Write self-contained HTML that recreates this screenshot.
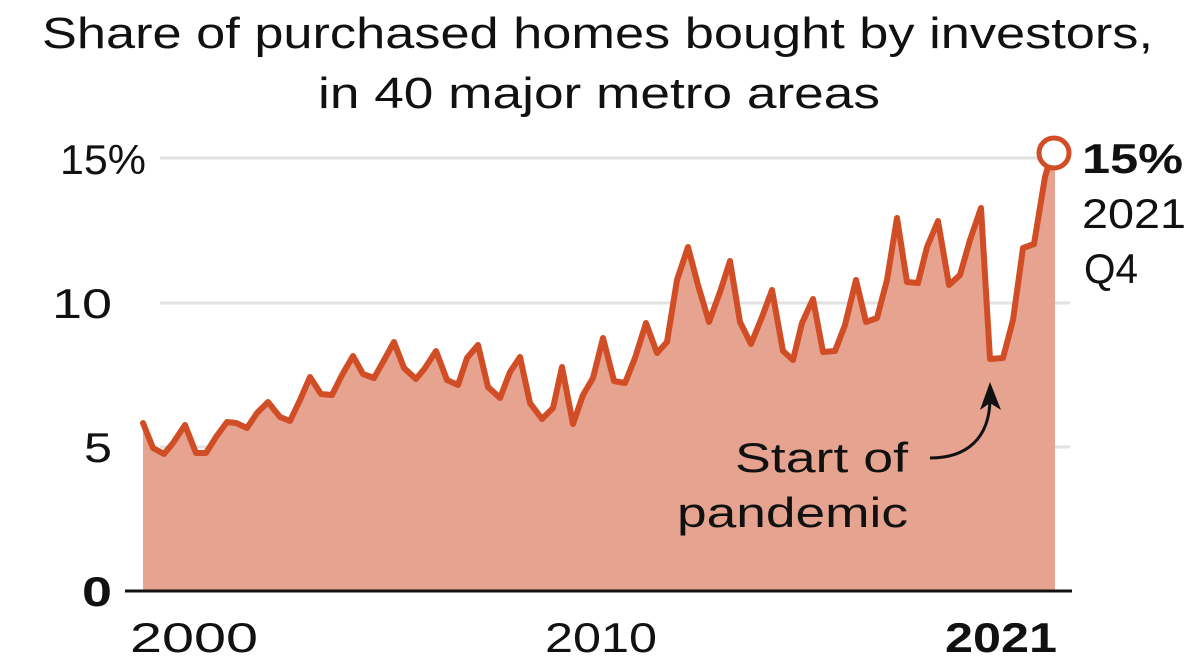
<!DOCTYPE html>
<html><head><meta charset="utf-8"><style>
html,body{margin:0;padding:0;background:#fff}
svg{display:block}
text{font-family:"Liberation Sans",sans-serif;fill:#111}
</style></head><body>
<svg width="1199" height="671" viewBox="0 0 1199 671">
<text x="42" y="48" font-size="44" textLength="1111" lengthAdjust="spacingAndGlyphs">Share of purchased homes bought by investors,</text>
<text x="318" y="108" font-size="44" textLength="562" lengthAdjust="spacingAndGlyphs">in 40 major metro areas</text>
<g stroke="#e2e2e2" stroke-width="3">
<line x1="160" y1="158" x2="1070" y2="158"/>
<line x1="160" y1="303" x2="1070" y2="303"/>
<line x1="160" y1="447" x2="1070" y2="447"/>
</g>
<g font-size="42">
<text x="60" y="174" textLength="86" lengthAdjust="spacingAndGlyphs">15%</text>
<text x="52" y="318" textLength="60" lengthAdjust="spacingAndGlyphs">10</text>
<text x="84" y="462" textLength="28" lengthAdjust="spacingAndGlyphs">5</text>
<text x="82" y="606" font-weight="bold" textLength="30" lengthAdjust="spacingAndGlyphs">0</text>
</g>
<polygon fill="#e5a390" points="143,591 143,423 153,448 164,454 173,443 185,425 196,453 206,453 216,437 227,422 236,423 247,428 257,413 268,402 280,417 290,421 300,400 310,377 321,394 332,395 342,375 353,356 363,374 374,378 383,362 394,342 404,368 416,379 425,368 436,351 447,380 458,385 467,358 478,345 488,387 500,398 510,372 520,357 530,403 542,419 553,408 562,367 573,424 583,395 593,378 603,338 614,381 625,383 635,358 646,323 657,353 667,342 677,280 688,247 698,285 709,322 720,292 730,261 740,322 751,344 762,317 772,290 783,351 793,360 802,323 813,299 823,352 835,351 845,325 856,280 866,322 877,318 887,280 897,218 907,282 918,283 927,247 938,221 949,285 960,275 970,240 981,208 990,359 1003,358 1013,320 1023,248 1034,244 1045,177 1052,153 1055,153 1055,591"/>
<polyline fill="none" stroke="#d14d26" stroke-width="6" stroke-linejoin="round" stroke-linecap="round" points="143,423 153,448 164,454 173,443 185,425 196,453 206,453 216,437 227,422 236,423 247,428 257,413 268,402 280,417 290,421 300,400 310,377 321,394 332,395 342,375 353,356 363,374 374,378 383,362 394,342 404,368 416,379 425,368 436,351 447,380 458,385 467,358 478,345 488,387 500,398 510,372 520,357 530,403 542,419 553,408 562,367 573,424 583,395 593,378 603,338 614,381 625,383 635,358 646,323 657,353 667,342 677,280 688,247 698,285 709,322 720,292 730,261 740,322 751,344 762,317 772,290 783,351 793,360 802,323 813,299 823,352 835,351 845,325 856,280 866,322 877,318 887,280 897,218 907,282 918,283 927,247 938,221 949,285 960,275 970,240 981,208 990,359 1003,358 1013,320 1023,248 1034,244 1045,177 1052,153"/>
<circle cx="1054" cy="153" r="15" fill="#fff" stroke="#d14d26" stroke-width="5"/>
<line x1="125" y1="591" x2="1072" y2="591" stroke="#111" stroke-width="3"/>
<g font-size="42">
<text x="130" y="652" textLength="128" lengthAdjust="spacingAndGlyphs">2000</text>
<text x="545" y="652" textLength="112" lengthAdjust="spacingAndGlyphs">2010</text>
<text x="945" y="652" font-weight="bold" textLength="112" lengthAdjust="spacingAndGlyphs">2021</text>
<text x="1082" y="173" font-weight="bold" textLength="101" lengthAdjust="spacingAndGlyphs">15%</text>
<text x="1082" y="228" textLength="104" lengthAdjust="spacingAndGlyphs">2021</text>
<text x="1084" y="283" textLength="54" lengthAdjust="spacingAndGlyphs">Q4</text>
<text x="735" y="472" textLength="173" lengthAdjust="spacingAndGlyphs">Start of</text>
<text x="677" y="527" textLength="231" lengthAdjust="spacingAndGlyphs">pandemic</text>
</g>
<path d="M930,458 C965,458 990,440 990,398" fill="none" stroke="#111" stroke-width="3"/>
<polygon points="990,382 980,410 990,403 1001,410" fill="#111"/>
</svg>
</body></html>
